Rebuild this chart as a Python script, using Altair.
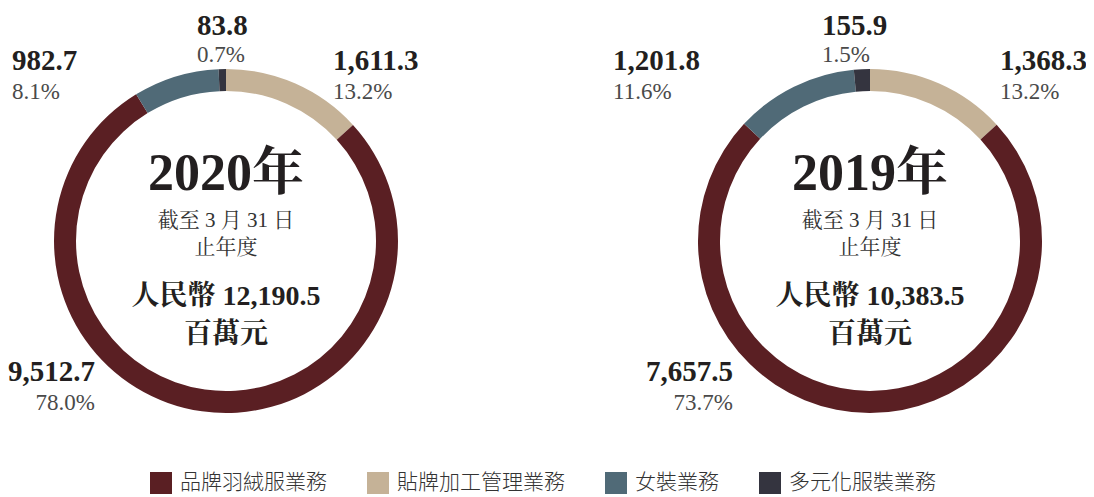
import altair as alt
import pandas as pd

# ---- data ----
years = ["2020年", "2019年"]
segments = ["貼牌加工管理業務", "品牌羽絨服業務", "女裝業務", "多元化服裝業務"]  # clockwise from 12 o'clock
legend_order = ["品牌羽絨服業務", "貼牌加工管理業務", "女裝業務", "多元化服裝業務"]
values_2020 = [1611.3, 9512.7, 982.7, 83.8]
pct_2020 = [13.2, 78.0, 8.1, 0.7]
values_2019 = [1368.3, 7657.5, 1201.8, 155.9]
pct_2019 = [13.2, 73.7, 11.6, 1.5]
totals = [12190.5, 10383.5]
subtitle1 = "截至 3 月 31 日"
subtitle2 = "止年度"
unit = "百萬元"
currency = "人民幣"

colors = ["#5a1f23", "#c5b297", "#506a77", "#34343f"]  # legend order

# ---- layout (not data) ----
W, H = 1078, 489
centers = {"2020年": (218, 233), "2019年": (862, 233)}
R_OUT, R_IN = 172, 150
# (x, value baseline, pct baseline, align)
label_pos = {
    "2020年": {"貼牌加工管理業務": (325, 62, 91, "left"), "品牌羽絨服業務": (87, 373, 402, "right"),
              "女裝業務": (4, 62, 91, "left"), "多元化服裝業務": (189, 27, 54, "left")},
    "2019年": {"貼牌加工管理業務": (992, 62, 91, "left"), "品牌羽絨服業務": (725, 373, 402, "right"),
              "女裝業務": (605, 62, 91, "left"), "多元化服裝業務": (814, 27, 54, "left")},
}

SERIF = "Liberation Serif, Noto Serif CJK TC, Noto Sans CJK TC, serif"
DARK = "#231f20"
GREY = "#4a4a4a"

rows = []
for yr, vals, pcts in [(years[0], values_2020, pct_2020), (years[1], values_2019, pct_2019)]:
    for i, (s, v, p) in enumerate(zip(segments, vals, pcts)):
        rows.append({"year": yr, "segment": s, "value": v, "pct": p, "order": i})
df = pd.DataFrame(rows)

layers = []
for yr in years:
    cx, cy = centers[yr]
    arc = alt.Chart(df).transform_filter(alt.datum.year == yr).mark_arc(
        radius=R_OUT, radius2=R_IN, stroke=None
    ).encode(
        theta=alt.Theta("value:Q", stack="normalize"),
        order=alt.Order("order:Q"),
        color=alt.Color("segment:N",
                        scale=alt.Scale(domain=legend_order, range=colors),
                        legend=alt.Legend(
                            title=None, orient="none", direction="horizontal",
                            legendX=142, legendY=464, symbolType="square",
                            symbolSize=484, symbolStrokeWidth=0, symbolOpacity=1,
                            labelFontSize=21, labelFont="Noto Sans CJK TC",
                            labelFontWeight=300, labelColor="#333333",
                            labelOffset=8, columnPadding=40, padding=0,
                            labelLimit=300)),
        x=alt.value(cx), y=alt.value(cy),
    )
    layers.append(arc)

# value / pct labels
lab_rows = []
for _, r in df.iterrows():
    x, y, yp, a = label_pos[r["year"]][r["segment"]]
    lab_rows.append({"vtext": f"{r['value']:,.1f}", "ptext": f"{r['pct']:.1f}%",
                     "x": x, "y": y, "yp": yp, "align": a})
lab = pd.DataFrame(lab_rows)

for a in ["left", "right"]:
    sub = lab[lab["align"] == a]
    layers.append(alt.Chart(sub).mark_text(
        align=a, baseline="alphabetic", font=SERIF, fontSize=29, fontWeight="bold", color=DARK
    ).encode(x=alt.X("x:Q", scale=None), y=alt.Y("y:Q", scale=None), text="vtext:N"))
    layers.append(alt.Chart(sub).mark_text(
        align=a, baseline="alphabetic", font=SERIF, fontSize=23, color=GREY
    ).encode(x=alt.X("x:Q", scale=None), y=alt.Y("yp:Q", scale=None), text="ptext:N"))

# center text
c_rows = []
for yr, tot in zip(years, totals):
    cx, cy = centers[yr]
    c_rows.append({"t": yr, "x": cx, "y": 182, "k": "big"})
    c_rows.append({"t": subtitle1, "x": cx, "y": 219, "k": "sub"})
    c_rows.append({"t": subtitle2, "x": cx, "y": 246, "k": "sub"})
    c_rows.append({"t": f"{currency} {tot:,.1f}", "x": cx, "y": 297, "k": "tot"})
    c_rows.append({"t": unit, "x": cx, "y": 335, "k": "tot"})
cdf = pd.DataFrame(c_rows)
styles = {"big": dict(fontSize=52, fontWeight="bold", color=DARK),
          "sub": dict(fontSize=21, fontWeight="normal", color="#333333"),
          "tot": dict(fontSize=28, fontWeight="bold", color=DARK)}
for k, st in styles.items():
    layers.append(alt.Chart(cdf[cdf["k"] == k]).mark_text(
        align="center", baseline="alphabetic", font=SERIF, **st
    ).encode(x=alt.X("x:Q", scale=None), y=alt.Y("y:Q", scale=None), text="t:N"))

chart = alt.layer(*layers).properties(
    width=W, height=H, autosize=alt.AutoSizeParams(type="none"), padding=0
).configure_view(stroke=None)

chart.save("out.html", embed_options={"renderer": "svg", "actions": False})
